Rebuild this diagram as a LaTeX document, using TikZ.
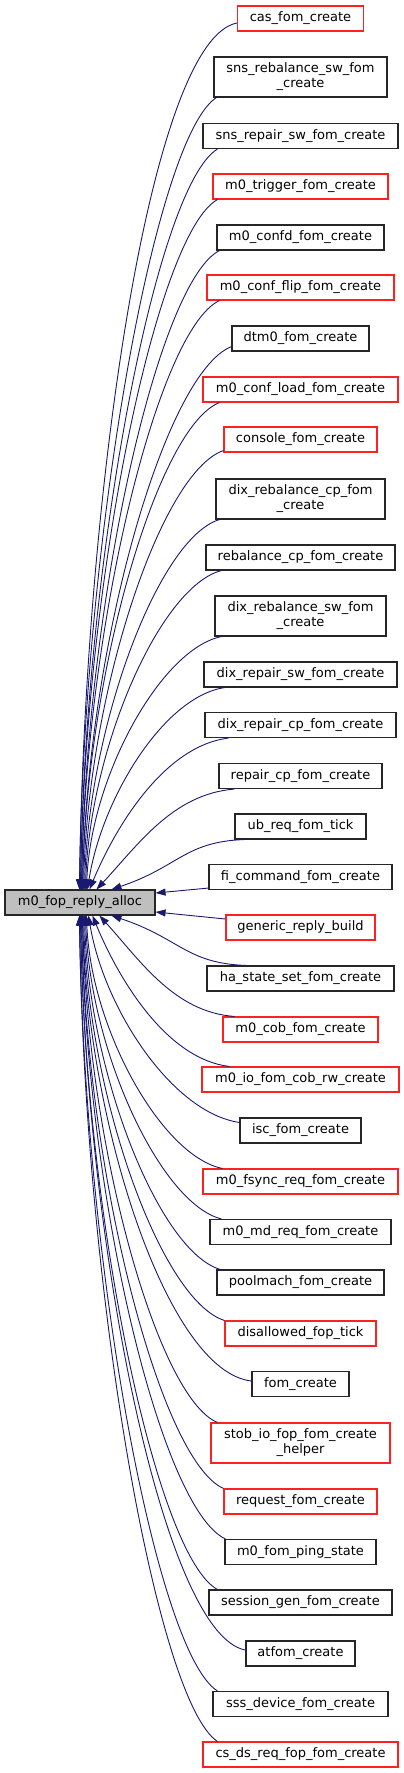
\documentclass[tikz,border=0pt]{standalone}
\usepackage{fontspec}
\setmainfont{DejaVu Sans}
\usetikzlibrary{arrows.meta}
\definecolor{edgeblue}{HTML}{191970}
\definecolor{boxgray}{HTML}{262626}
\definecolor{boxred}{HTML}{FF2020}
\definecolor{mainfill}{HTML}{BFBFBF}
\begin{document}
\begin{tikzpicture}[x=1pt,y=-1pt,
  box/.style={draw, line width=1.1pt, inner xsep=4pt, inner ysep=0pt, minimum height=25pt, font=\fontsize{13}{15}\selectfont, align=center},
  blk/.style={box, draw=boxgray},
  rdn/.style={box, draw=boxred},
  tall/.style={minimum height=40pt},
  edge/.style={draw=edgeblue, line width=0.9pt, -{Triangle[length=10pt,width=7pt]}}]
\useasboundingbox (0,0) rectangle (404,1773);

\node[box, draw=boxgray, fill=mainfill, minimum width=150pt] (m) at (80,902.5) {m0\_fop\_reply\_alloc};

\node[rdn, minimum width=126pt] (n1) at (300.5,18.5) {cas\_fom\_create};
\node[blk, tall, minimum width=173pt] (n2) at (300.5,77) {sns\_rebalance\_sw\_fom\\\_create};
\node[blk, minimum width=195pt] (n3) at (300.5,136) {sns\_repair\_sw\_fom\_create};
\node[rdn, minimum width=175pt] (n4) at (300.5,186.5) {m0\_trigger\_fom\_create};
\node[blk, minimum width=167pt] (n5) at (300.5,237.5) {m0\_confd\_fom\_create};
\node[rdn, minimum width=187pt] (n6) at (300.5,287.5) {m0\_conf\_flip\_fom\_create};
\node[blk, minimum width=137pt] (n7) at (300.5,338.5) {dtm0\_fom\_create};
\node[rdn, minimum width=195pt] (n8) at (300.5,389.5) {m0\_conf\_load\_fom\_create};
\node[rdn, minimum width=153pt] (n9) at (300.5,439.5) {console\_fom\_create};
\node[blk, tall, minimum width=169pt] (n10) at (300.5,499) {dix\_rebalance\_cp\_fom\\\_create};
\node[blk, minimum width=189pt] (n11) at (300.5,557.5) {rebalance\_cp\_fom\_create};
\node[blk, tall, minimum width=171pt] (n12) at (300.5,616) {dix\_rebalance\_sw\_fom\\\_create};
\node[blk, minimum width=193pt] (n13) at (300.5,674.5) {dix\_repair\_sw\_fom\_create};
\node[blk, minimum width=191pt] (n14) at (300.5,725) {dix\_repair\_cp\_fom\_create};
\node[blk, minimum width=163pt] (n15) at (300.5,776) {repair\_cp\_fom\_create};
\node[blk, minimum width=131pt] (n16) at (300.5,826.5) {ub\_req\_fom\_tick};
\node[blk, minimum width=183pt] (n17) at (300.5,877) {fi\_command\_fom\_create};
\node[rdn, minimum width=149pt] (n18) at (300.5,927.5) {generic\_reply\_build};
\node[blk, minimum width=187pt] (n19) at (300.5,978.5) {ha\_state\_set\_fom\_create};
\node[rdn, minimum width=155pt] (n20) at (300.5,1029.5) {m0\_cob\_fom\_create};
\node[rdn, minimum width=197pt] (n21) at (300.5,1079.5) {m0\_io\_fom\_cob\_rw\_create};
\node[blk, minimum width=121pt] (n22) at (300.5,1130.5) {isc\_fom\_create};
\node[rdn, minimum width=195pt] (n23) at (300.5,1181.5) {m0\_fsync\_req\_fom\_create};
\node[blk, minimum width=181pt] (n24) at (300.5,1232) {m0\_md\_req\_fom\_create};
\node[blk, minimum width=167pt] (n25) at (300.5,1282.5) {poolmach\_fom\_create};
\node[rdn, minimum width=151pt] (n26) at (300.5,1333.5) {disallowed\_fop\_tick};
\node[blk, minimum width=97pt] (n27) at (300.5,1384) {fom\_create};
\node[rdn, tall, minimum width=179pt] (n28) at (300.5,1443) {stob\_io\_fop\_fom\_create\\\_helper};
\node[rdn, minimum width=153pt] (n29) at (300.5,1501.5) {request\_fom\_create};
\node[blk, minimum width=151pt] (n30) at (300.5,1552) {m0\_fom\_ping\_state};
\node[blk, minimum width=183pt] (n31) at (300.5,1602.5) {session\_gen\_fom\_create};
\node[blk, minimum width=109pt] (n32) at (300.5,1653.5) {atfom\_create};
\node[blk, minimum width=175pt] (n33) at (300.5,1704) {sss\_device\_fom\_create};
\node[rdn, minimum width=195pt] (n34) at (300.5,1754.5) {cs\_ds\_req\_fop\_fom\_create};

\draw[edge] ([yshift=-4.5pt]n1.west) .. controls (149,40) and (84.7,500) .. ([xshift=75pt]m.north west);
\draw[edge] ([xshift=3pt]n2.south west) .. controls (155.3,136.7) and (84.1,533) .. ([xshift=75pt]m.north west);
\draw[edge] ([xshift=15pt]n3.south west) .. controls (156.4,186) and (85.1,556.6) .. ([xshift=76pt]m.north west);
\draw[edge] ([xshift=5pt]n4.south west) .. controls (156.4,233.6) and (85.1,579) .. ([xshift=76pt]m.north west);
\draw[edge] ([xshift=3pt]n5.south west) .. controls (157.9,282) and (86.1,602) .. ([xshift=77pt]m.north west);
\draw[edge] ([xshift=13pt]n6.south west) .. controls (157.9,329.5) and (86.1,624.5) .. ([xshift=77pt]m.north west);
\draw[edge] ([yshift=5pt]n7.south west) .. controls (165,373) and (87.5,645) .. ([xshift=78pt]m.north west);
\draw[edge] ([xshift=17pt]n8.south west) .. controls (158.4,426.4) and (87.1,670) .. ([xshift=78pt]m.north west);
\draw[edge] ([yshift=2pt]n9.south west) .. controls (161,472) and (88.2,692) .. ([xshift=79pt]m.north west);
\draw[edge] ([xshift=4pt]n10.south west) .. controls (159.3,537.5) and (89,723) .. ([xshift=80pt]m.north west);
\draw[edge] ([xshift=16pt]n11.south west) .. controls (160.8,586) and (90.1,746) .. ([xshift=81pt]m.north west);
\draw[edge] ([xshift=7pt]n12.south west) .. controls (161.3,648.7) and (91,775.7) .. ([xshift=82pt]m.north west);
\draw[edge] ([xshift=21pt]n13.south west) .. controls (163.4,697) and (101.7,798.6) .. ([xshift=83pt]m.north west);
\draw[edge] ([xshift=24pt]n14.south west) .. controls (166.5,745.6) and (117.8,821.6) .. ([xshift=85pt]m.north west);
\draw[edge] ([xshift=16pt]n15.south west) .. controls (172.9,794) and (138.4,844.5) .. ([xshift=92pt]m.north west);
\draw[edge] ([xshift=10pt]n16.south west) .. controls (185,841.5) and (178.5,867) .. ([xshift=107pt]m.north west);
\draw[edge] ([yshift=2pt]n17.south west) -- ([yshift=9.5pt]m.east);
\draw[edge] ([yshift=8.5pt]n18.west) -- ([yshift=-9.5pt]m.east);

\draw[edge] ([xshift=40pt]n19.north west) .. controls (186.25,963.5) and (179.5,938) .. ([xshift=107pt]m.south west);
\draw[edge] ([xshift=12pt]n20.north west) .. controls (174.25,1012) and (140.5,961) .. ([xshift=95pt]m.south west);
\draw[edge] ([xshift=28pt]n21.north west) .. controls (168.4,1059.4) and (120.4,983.4) .. ([xshift=88pt]m.south west);
\draw[edge] ([yshift=-5pt]n22.north west) .. controls (172,1112.6) and (104.1,1008.6) .. ([xshift=84pt]m.south west);
\draw[edge] ([xshift=20pt]n23.north west) .. controls (161.8,1156.3) and (91.1,1029.3) .. ([xshift=82pt]m.south west);
\draw[edge] ([xshift=12pt]n24.north west) .. controls (160.8,1203.8) and (90.1,1051.8) .. ([xshift=81pt]m.south west);
\draw[edge] ([xshift=4pt]n25.north west) .. controls (159.8,1252.25) and (89.1,1075) .. ([xshift=80pt]m.south west);
\draw[edge] (n26.north west) .. controls (161.5,1300.7) and (88.2,1097.7) .. ([xshift=79pt]m.south west);
\draw[edge] ([yshift=3pt]n27.west) .. controls (167.5,1371.7) and (88,1125) .. ([xshift=78pt]m.south west);
\draw[edge] ([xshift=7pt]n28.north west) .. controls (157.25,1397.6) and (87,1144) .. ([xshift=78pt]m.south west);
\draw[edge] (n29.north west) .. controls (160.1,1460.3) and (86.3,1173.3) .. ([xshift=77pt]m.south west);
\draw[edge] ([xshift=1pt]n30.north west) .. controls (160.6,1508.75) and (86.3,1196.25) .. ([xshift=77pt]m.south west);
\draw[edge] ([xshift=9pt]n31.north west) .. controls (156.35,1556.25) and (85.1,1219) .. ([xshift=76pt]m.south west);
\draw[edge] ([yshift=3.5pt]n32.west) .. controls (163.5,1635.3) and (86,1246) .. ([xshift=76pt]m.south west);
\draw[edge] ([xshift=5pt]n33.north west) .. controls (155.9,1652.2) and (84.1,1264.2) .. ([xshift=75pt]m.south west);
\draw[edge] ([xshift=15pt]n34.north west) .. controls (155.9,1700.65) and (84.1,1287) .. ([xshift=75pt]m.south west);
\end{tikzpicture}
\end{document}
